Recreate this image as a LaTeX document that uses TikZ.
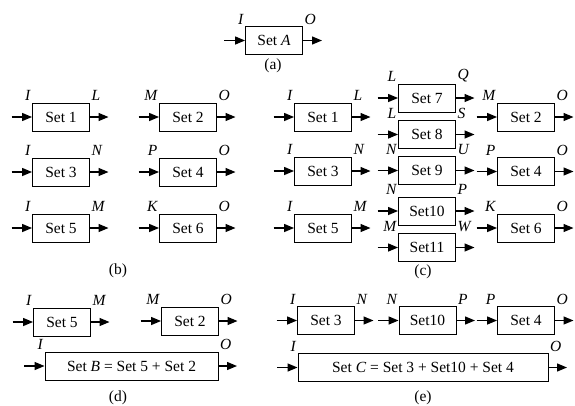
\documentclass[tikz,border=0pt]{standalone}
\usepackage{fontspec}
\setmainfont{Liberation Serif}
\usetikzlibrary{arrows.meta}

\begin{document}
\begin{tikzpicture}[x=1pt,y=-1pt,
		set/.style={draw,line width=0.9pt,minimum width=57pt,minimum height=28pt,inner sep=0pt,font=\fontsize{15.5}{18}\selectfont},
		io/.style={font=\fontsize{15.5}{18}\selectfont\itshape,inner sep=1.5pt},
		flow/.style={line width=1.3pt,-{Triangle[length=10pt,width=8pt]}},
		panel/.style={font=\fontsize{15.5}{18}\selectfont}]
	\useasboundingbox (0,0) rectangle (575,405);
			\node[set,label={[io]north west:I},label={[io]north east:O}] (A) at (274,40.5) {Set \textit{A}};
			\node[panel] (pa) at (273,66) {(a)};
			\node[set,label={[io]north west:I},label={[io]north east:L}] (b1) at (61,117) {Set 1};
			\node[set,label={[io]north west:M},label={[io]north east:O}] (b2) at (188,117) {Set 2};
			\node[set,label={[io]north west:I},label={[io]north east:N}] (b3) at (61,172) {Set 3};
			\node[set,label={[io]north west:P},label={[io]north east:O}] (b4) at (188,172) {Set 4};
			\node[set,label={[io]north west:I},label={[io]north east:M}] (b5) at (61,228) {Set 5};
			\node[set,label={[io]north west:K},label={[io]north east:O}] (b6) at (188,228) {Set 6};
			\node[panel] (pb) at (118,271) {(b)};
			\node[set,label={[io]north west:I},label={[io]north east:L}] (c1) at (323,117) {Set 1};
			\node[set,label={[io]north west:I},label={[io]north east:N}] (c3) at (323,171) {Set 3};
			\node[set,label={[io]north west:I},label={[io]north east:M}] (c5) at (323,228) {Set 5};
			\node[set,label={[io]north west:L},label={[io]north east:Q}] (c7) at (427,98) {Set 7};
			\node[set,label={[io]north west:L},label={[io]north east:S}] (c8) at (427,134.5) {Set 8};
			\node[set,label={[io]north west:N},label={[io]north east:U}] (c9) at (427,170.5) {Set 9};
			\node[set,label={[io]north west:N},label={[io]north east:P}] (c10) at (427,211) {Set10};
			\node[set,label={[io]north west:M},label={[io]north east:W}] (c11) at (427,247.5) {Set11};
			\node[set,label={[io]north west:M},label={[io]north east:O}] (c2) at (526,117) {Set 2};
			\node[set,label={[io]north west:P},label={[io]north east:O}] (c4) at (526,171.5) {Set 4};
			\node[set,label={[io]north west:K},label={[io]north east:O}] (c6) at (526,228) {Set 6};
			\node[panel] (pc) at (423,272) {(c)};
			\node[set,label={[io]north west:I},label={[io]north east:M}] (d5) at (62,322) {Set 5};
			\node[set,label={[io]north west:M},label={[io]north east:O}] (d2) at (190,321) {Set 2};
			\node[set,minimum width=173pt,label={[io]north west:I},label={[io]north east:O}] (dB) at (131.5,366) {Set \textit{B} = Set 5 + Set 2};
			\node[panel] (pd) at (118,398) {(d)};
			\node[set,label={[io]north west:I},label={[io]north east:N}] (e3) at (326,320.5) {Set 3};
			\node[set,label={[io]north west:N},label={[io]north east:P}] (e10) at (427.5,320.5) {Set10};
			\node[set,label={[io]north west:P},label={[io]north east:O}] (e4) at (526,320.5) {Set 4};
			\node[set,minimum width=250pt,label={[io]north west:I},label={[io]north east:O}] (eC) at (423,367.5) {Set \textit{C} = Set 3 + Set10 + Set 4};
			\node[panel] (pe) at (423,398) {(e)};
			\coordinate (A-in) at (224,40.5);
			\coordinate (A-out) at (322,40.5);
			\coordinate (b1-in) at (11.5,117);
			\coordinate (b1-out) at (108.5,117);
			\coordinate (b2-in) at (138.5,117);
			\coordinate (b2-out) at (235.5,117);
			\coordinate (b3-in) at (11.5,172);
			\coordinate (b3-out) at (108.5,172);
			\coordinate (b4-in) at (138.5,172);
			\coordinate (b4-out) at (235.5,172);
			\coordinate (b5-in) at (11.5,228);
			\coordinate (b5-out) at (108.5,228);
			\coordinate (b6-in) at (138.5,228);
			\coordinate (b6-out) at (235.5,228);
			\coordinate (c1-in) at (273.5,117);
			\coordinate (c1-out) at (370.5,117);
			\coordinate (c3-in) at (273.5,171);
			\coordinate (c3-out) at (370.5,171);
			\coordinate (c5-in) at (273.5,228);
			\coordinate (c5-out) at (370.5,228);
			\coordinate (c7-in) at (377.5,98);
			\coordinate (c7-out) at (474.5,98);
			\coordinate (c8-in) at (377.5,134.5);
			\coordinate (c8-out) at (474.5,134.5);
			\coordinate (c9-in) at (377.5,170.5);
			\coordinate (c9-out) at (474.5,170.5);
			\coordinate (c10-in) at (377.5,211);
			\coordinate (c10-out) at (474.5,211);
			\coordinate (c11-in) at (377.5,247.5);
			\coordinate (c11-out) at (474.5,247.5);
			\coordinate (c2-in) at (476.5,117);
			\coordinate (c2-out) at (573.5,117);
			\coordinate (c4-in) at (476.5,171.5);
			\coordinate (c4-out) at (573.5,171.5);
			\coordinate (c6-in) at (476.5,228);
			\coordinate (c6-out) at (573.5,228);
			\coordinate (d5-in) at (12.5,322);
			\coordinate (d5-out) at (109.5,322);
			\coordinate (d2-in) at (140.5,321);
			\coordinate (d2-out) at (237.5,321);
			\coordinate (dB-in) at (24,366);
			\coordinate (dB-out) at (237,366);
			\coordinate (e3-in) at (276.5,320.5);
			\coordinate (e3-out) at (373.5,320.5);
			\coordinate (e10-in) at (378,320.5);
			\coordinate (e10-out) at (475,320.5);
			\coordinate (e4-in) at (476.5,320.5);
			\coordinate (e4-out) at (573.5,320.5);
			\coordinate (eC-in) at (277,367.5);
			\coordinate (eC-out) at (567,367.5);
			\draw[flow] (A-in) -- (A); \draw[flow] (A) -- (A-out);
			\draw[flow] (b1-in) -- (b1); \draw[flow] (b1) -- (b1-out);
			\draw[flow] (b2-in) -- (b2); \draw[flow] (b2) -- (b2-out);
			\draw[flow] (b3-in) -- (b3); \draw[flow] (b3) -- (b3-out);
			\draw[flow] (b4-in) -- (b4); \draw[flow] (b4) -- (b4-out);
			\draw[flow] (b5-in) -- (b5); \draw[flow] (b5) -- (b5-out);
			\draw[flow] (b6-in) -- (b6); \draw[flow] (b6) -- (b6-out);
			\draw[flow] (c1-in) -- (c1); \draw[flow] (c1) -- (c1-out);
			\draw[flow] (c3-in) -- (c3); \draw[flow] (c3) -- (c3-out);
			\draw[flow] (c5-in) -- (c5); \draw[flow] (c5) -- (c5-out);
			\draw[flow] (c7-in) -- (c7); \draw[flow] (c7) -- (c7-out);
			\draw[flow] (c8-in) -- (c8); \draw[flow] (c8) -- (c8-out);
			\draw[flow] (c9-in) -- (c9); \draw[flow] (c9) -- (c9-out);
			\draw[flow] (c10-in) -- (c10); \draw[flow] (c10) -- (c10-out);
			\draw[flow] (c11-in) -- (c11); \draw[flow] (c11) -- (c11-out);
			\draw[flow] (c2-in) -- (c2); \draw[flow] (c2) -- (c2-out);
			\draw[flow] (c4-in) -- (c4); \draw[flow] (c4) -- (c4-out);
			\draw[flow] (c6-in) -- (c6); \draw[flow] (c6) -- (c6-out);
			\draw[flow] (d5-in) -- (d5); \draw[flow] (d5) -- (d5-out);
			\draw[flow] (d2-in) -- (d2); \draw[flow] (d2) -- (d2-out);
			\draw[flow] (dB-in) -- (dB); \draw[flow] (dB) -- (dB-out);
			\draw[flow] (e3-in) -- (e3); \draw[flow] (e3) -- (e3-out);
			\draw[flow] (e10-in) -- (e10); \draw[flow] (e10) -- (e10-out);
			\draw[flow] (e4-in) -- (e4); \draw[flow] (e4) -- (e4-out);
			\draw[flow] (eC-in) -- (eC); \draw[flow] (eC) -- (eC-out);
		\end{tikzpicture}
\end{document}
